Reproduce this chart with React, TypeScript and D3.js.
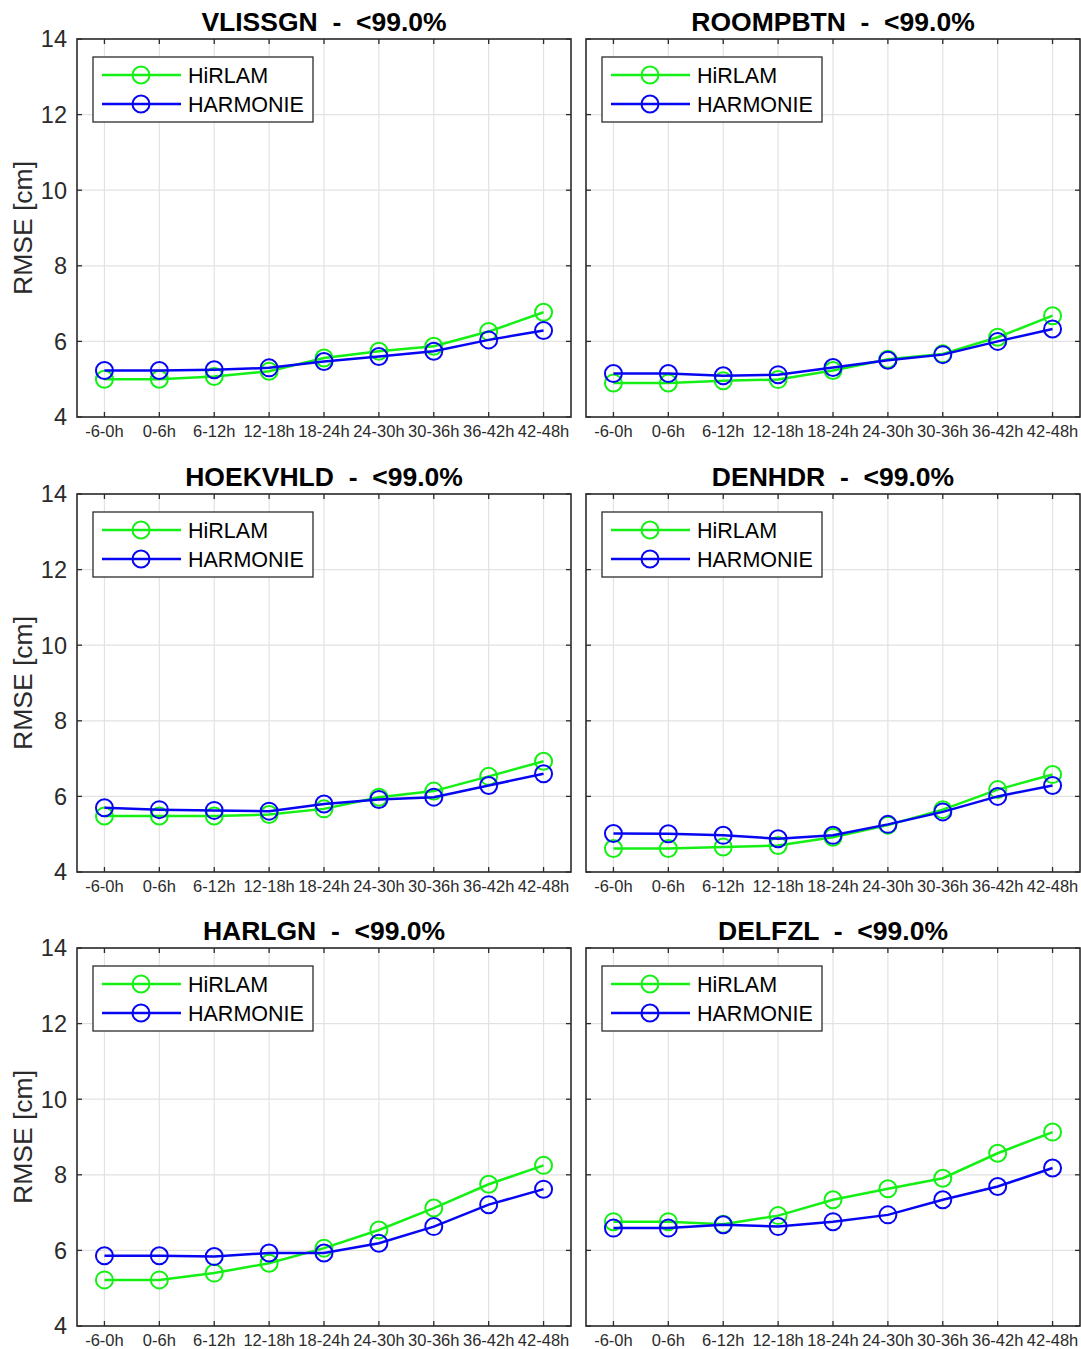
import React, { useEffect, useRef } from "react";
import * as d3 from "d3";

const hours = ["-6-0h", "0-6h", "6-12h", "12-18h", "18-24h", "24-30h", "30-36h", "36-42h", "42-48h"];
const stations = ["VLISSGN", "ROOMPBTN", "HOEKVHLD", "DENHDR", "HARLGN", "DELFZL"];
const yTicks = [4, 6, 8, 10, 12, 14];
const models = ["HiRLAM", "HARMONIE"];
const colors = ["#14f014", "#0606f2"];

// RMSE [cm] per station
const hirlam = [
  [5.0, 5.0, 5.07, 5.21, 5.56, 5.74, 5.87, 6.26, 6.77],
  [4.9, 4.9, 4.96, 4.99, 5.23, 5.53, 5.67, 6.11, 6.68],
  [5.48, 5.48, 5.48, 5.52, 5.67, 5.98, 6.14, 6.53, 6.93],
  [4.62, 4.62, 4.66, 4.7, 4.92, 5.24, 5.65, 6.18, 6.58],
  [5.22, 5.22, 5.4, 5.66, 6.06, 6.54, 7.12, 7.75, 8.25],
  [6.76, 6.76, 6.69, 6.92, 7.34, 7.63, 7.91, 8.57, 9.13],
];
const harmonie = [
  [5.23, 5.23, 5.25, 5.3, 5.47, 5.6, 5.74, 6.04, 6.29],
  [5.15, 5.15, 5.09, 5.12, 5.31, 5.5, 5.65, 6.0, 6.33],
  [5.7, 5.65, 5.63, 5.61, 5.8, 5.92, 5.98, 6.29, 6.6],
  [5.02, 5.01, 4.97, 4.88, 4.97, 5.26, 5.59, 6.0, 6.29],
  [5.86, 5.86, 5.84, 5.93, 5.93, 6.19, 6.63, 7.21, 7.62],
  [6.59, 6.59, 6.68, 6.63, 6.76, 6.94, 7.34, 7.69, 8.18],
];

const font = "'Liberation Sans', Arial, Helvetica, sans-serif";

const Chart = () => {
  const ref = useRef<SVGSVGElement>(null);

  useEffect(() => {
    const svg = d3.select(ref.current);
    svg.selectAll("*").remove();

    const W = 1081;
    const H = 1349;
    svg.attr("width", W).attr("height", H);
    svg.append("rect").attr("width", W).attr("height", H).attr("fill", "#fff");

    const colLeft = [77, 586];
    const rowTop = [39, 494, 948];
    const pw = 494;
    const ph = 378;
    const axisColor = "#2b2b2b";

    stations.forEach((name, i) => {
      const col = i % 2;
      const row = Math.floor(i / 2);
      const left = colLeft[col];
      const top = rowTop[row];

      const x = d3.scalePoint().domain(hours).range([left, left + pw]).padding(0.5);
      const y = d3.scaleLinear().domain([4, 14]).range([top + ph, top]);

      const g = svg.append("g");

      // grid
      g.selectAll(".gx")
        .data(hours)
        .join("line")
        .attr("x1", (d) => x(d)!)
        .attr("x2", (d) => x(d)!)
        .attr("y1", top)
        .attr("y2", top + ph)
        .attr("stroke", "#e2e2e2")
        .attr("stroke-width", 1.2);
      g.selectAll(".gy")
        .data(yTicks)
        .join("line")
        .attr("x1", left)
        .attr("x2", left + pw)
        .attr("y1", (d) => y(d))
        .attr("y2", (d) => y(d))
        .attr("stroke", "#e2e2e2")
        .attr("stroke-width", 1.2);

      // inward ticks on all four sides
      const tl = 5;
      hours.forEach((h) => {
        g.append("line").attr("x1", x(h)!).attr("x2", x(h)!).attr("y1", top + ph).attr("y2", top + ph - tl)
          .attr("stroke", axisColor).attr("stroke-width", 1.3);
        g.append("line").attr("x1", x(h)!).attr("x2", x(h)!).attr("y1", top).attr("y2", top + tl)
          .attr("stroke", axisColor).attr("stroke-width", 1.3);
      });
      yTicks.forEach((t) => {
        g.append("line").attr("x1", left).attr("x2", left + tl).attr("y1", y(t)).attr("y2", y(t))
          .attr("stroke", axisColor).attr("stroke-width", 1.3);
        g.append("line").attr("x1", left + pw).attr("x2", left + pw - tl).attr("y1", y(t)).attr("y2", y(t))
          .attr("stroke", axisColor).attr("stroke-width", 1.3);
      });

      // box
      g.append("rect")
        .attr("x", left)
        .attr("y", top)
        .attr("width", pw)
        .attr("height", ph)
        .attr("fill", "none")
        .attr("stroke", axisColor)
        .attr("stroke-width", 1.6);

      // x tick labels
      g.selectAll(".xl")
        .data(hours)
        .join("text")
        .attr("x", (d) => x(d)!)
        .attr("y", top + ph + 20)
        .attr("text-anchor", "middle")
        .attr("font-family", font)
        .attr("font-size", 16.5)
        .attr("fill", axisColor)
        .text((d) => d);

      // y tick labels + axis label only on the left column
      if (col === 0) {
        g.selectAll(".yl")
          .data(yTicks)
          .join("text")
          .attr("x", left - 10)
          .attr("y", (d) => y(d))
          .attr("dy", "0.36em")
          .attr("text-anchor", "end")
          .attr("font-family", font)
          .attr("font-size", 23.5)
          .attr("fill", axisColor)
          .text((d) => d);

        g.append("text")
          .attr("transform", `translate(32,${top + ph / 2}) rotate(-90)`)
          .attr("text-anchor", "middle")
          .attr("font-family", font)
          .attr("font-size", 26.5)
          .attr("fill", axisColor)
          .text("RMSE [cm]");
      }

      // title
      g.append("text")
        .attr("x", left + pw / 2)
        .attr("y", top - 8)
        .attr("text-anchor", "middle")
        .attr("font-family", font)
        .attr("font-weight", "bold")
        .attr("font-size", 26.5)
        .attr("fill", "#000")
        .style("white-space", "pre")
        .text(`${name}  -  <99.0%`);

      // series
      const line = d3
        .line<number>()
        .x((_, j) => x(hours[j])!)
        .y((d) => y(d));

      [hirlam[i], harmonie[i]].forEach((vals, k) => {
        g.append("path")
          .attr("d", line(vals))
          .attr("fill", "none")
          .attr("stroke", colors[k])
          .attr("stroke-width", 2.5);
        g.selectAll(`.m${k}`)
          .data(vals)
          .join("circle")
          .attr("cx", (_, j) => x(hours[j])!)
          .attr("cy", (d) => y(d))
          .attr("r", 8.5)
          .attr("fill", "none")
          .attr("stroke", colors[k])
          .attr("stroke-width", 2);
      });

      // legend
      const lx = left + 16;
      const ly = top + 18;
      const lg = g.append("g");
      lg.append("rect")
        .attr("x", lx)
        .attr("y", ly)
        .attr("width", 220)
        .attr("height", 65)
        .attr("fill", "#fff")
        .attr("stroke", axisColor)
        .attr("stroke-width", 1.3);
      models.forEach((m, k) => {
        const cy = ly + 18 + k * 29;
        lg.append("line")
          .attr("x1", lx + 9)
          .attr("x2", lx + 88)
          .attr("y1", cy)
          .attr("y2", cy)
          .attr("stroke", colors[k])
          .attr("stroke-width", 2.5);
        lg.append("circle")
          .attr("cx", lx + 48)
          .attr("cy", cy)
          .attr("r", 8.5)
          .attr("fill", "none")
          .attr("stroke", colors[k])
          .attr("stroke-width", 2);
        lg.append("text")
          .attr("x", lx + 95)
          .attr("y", cy)
          .attr("dy", "0.36em")
          .attr("font-family", font)
          .attr("font-size", 21.5)
          .attr("fill", "#000")
          .text(m);
      });
    });
  }, []);

  return (
    <div style={{ position: "absolute", left: 0, top: 0 }}>
      <svg ref={ref}></svg>
    </div>
  );
};

export default function App() {
  return <Chart />;
}
